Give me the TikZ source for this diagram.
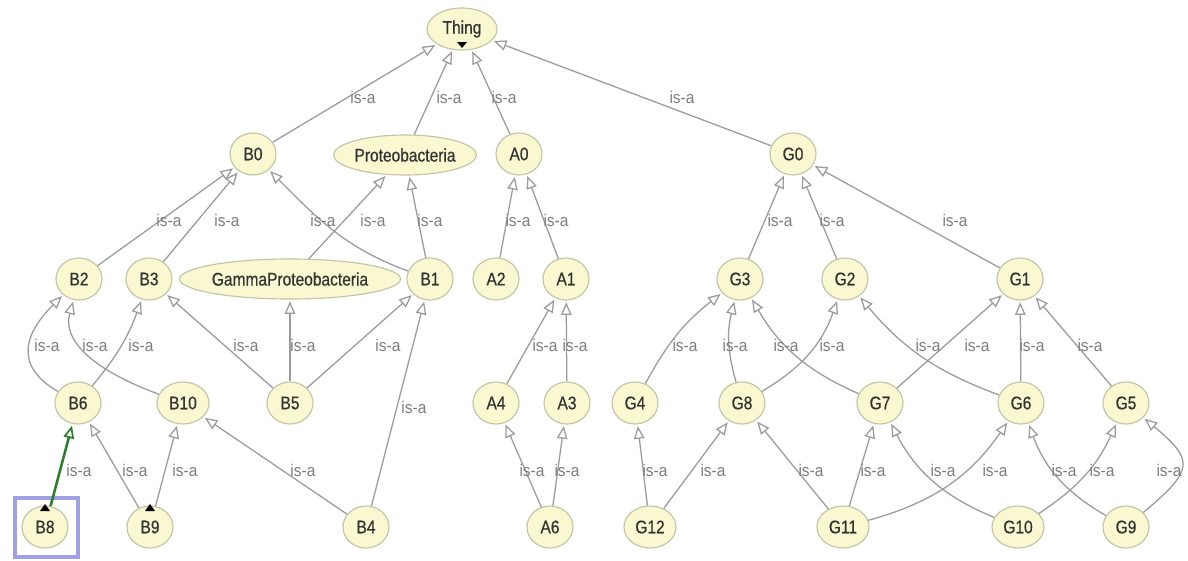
\documentclass[tikz,border=0pt]{standalone}
\usepackage{fontspec}
\setmainfont{Liberation Sans}
\newfontfamily\nodefont{Liberation Sans}[FakeStretch=0.85,FakeBold=0.6]
\newfontfamily\lblfont{Liberation Sans}[FakeStretch=0.92]
\usetikzlibrary{arrows.meta,shapes.geometric}
\definecolor{nodefill}{RGB}{250,248,208}
\definecolor{nodeborder}{RGB}{195,195,165}
\definecolor{edgegray}{RGB}{155,155,155}
\definecolor{labelgray}{RGB}{125,125,125}
\definecolor{selgreen}{RGB}{40,125,40}
\definecolor{selblue}{RGB}{160,160,230}
\begin{document}
\begin{tikzpicture}[x=0.025cm,y=-0.025cm,
  cls/.style={ellipse, draw=nodeborder, line width=0.8pt, fill=nodefill,
    minimum width=1.15cm, minimum height=1.05cm, inner sep=0pt,
    font=\nodefont\fontsize{13}{15}\selectfont, text=black!80},
  wide/.style={minimum width=1.3cm},
  isa/.style={draw=edgegray, line width=0.9pt, shorten >=1.2pt,
    -{Triangle[length=9pt,width=7.5pt,fill=white]}},
  sel/.style={draw=selgreen, line width=1.8pt, shorten >=1.2pt,
    -{Triangle[length=9pt,width=7.5pt,fill=white,line width=1.2pt]}},
  lbl/.style={text=labelgray, font=\lblfont\fontsize{12}{13}\selectfont, inner sep=0pt},
  blackmark/.style={fill=black}
]
\useasboundingbox (0,0) rectangle (1188,560);
\fill[white] (0,0) rectangle (1188,560);

% nodes
\node[cls, minimum width=1.75cm] (Thing) at (462,29) {Thing};
\node[cls] (B0) at (253,154) {B0};
\node[cls, minimum width=3.4cm, minimum height=1.0cm] (Proteo) at (405,155) {Proteobacteria};
\node[cls] (A0) at (519,154) {A0};
\node[cls] (G0) at (793,154) {G0};

\node[cls] (B2) at (79,279) {B2};
\node[cls] (B3) at (149,279) {B3};
\node[cls, minimum width=4.75cm, minimum height=1.0cm] (Gamma) at (290,279) {GammaProteobacteria};
\node[cls] (B1) at (430,279) {B1};
\node[cls] (A2) at (496,279) {A2};
\node[cls] (A1) at (566,279) {A1};
\node[cls] (G3) at (740,279) {G3};
\node[cls] (G2) at (845,279) {G2};
\node[cls] (G1) at (1020,279) {G1};

\node[cls] (B6) at (78,403) {B6};
\node[cls, wide] (B10) at (183,403) {B10};
\node[cls] (B5) at (290,403) {B5};
\node[cls] (A4) at (496,403) {A4};
\node[cls] (A3) at (567,403) {A3};
\node[cls] (G4) at (635,403) {G4};
\node[cls] (G8) at (742,403) {G8};
\node[cls] (G7) at (880,403) {G7};
\node[cls] (G6) at (1021,403) {G6};
\node[cls] (G5) at (1126,403) {G5};

\node[cls] (B8) at (45,527) {B8};
\node[cls] (B9) at (150,527) {B9};
\node[cls] (B4) at (366,527) {B4};
\node[cls] (A6) at (550,527) {A6};
\node[cls, wide] (G12) at (650,527) {G12};
\node[cls, wide] (G11) at (843,527) {G11};
\node[cls, wide] (G10) at (1018,527) {G10};
\node[cls] (G9) at (1126,527) {G9};

% markers
\fill[blackmark] ([shift={(-5,13)}]Thing.center) -- ++(10,0) -- ++(-5,6) -- cycle;
\fill[blackmark] ([shift={(-5,-16)}]B8.center) -- ++(10,0) -- ++(-5,-7) -- cycle;
\fill[blackmark] ([shift={(-5,-16)}]B9.center) -- ++(10,0) -- ++(-5,-7) -- cycle;
\draw[selblue, line width=2.2pt] ([shift={(-30,-29)}]B8.center) rectangle ([shift={(33,30)}]B8.center);

% level 1
\draw[isa] (B0) -- (Thing);
\draw[isa] (Proteo) -- (Thing);
\draw[isa] (A0) -- (Thing);
\draw[isa] (G0) -- (Thing);
\node[lbl] (l1) at (363,97) {is-a};
\node[lbl] (l2) at (449,97) {is-a};
\node[lbl] (l3) at (504,97) {is-a};
\node[lbl] (l4) at (682,97) {is-a};

% level 2
\draw[isa] (B2) -- (B0);
\draw[isa] (B3) -- (B0);
\draw[isa] (B1) to[out=160,in=-45] (B0);
\draw[isa] (Gamma) -- (Proteo);
\draw[isa] (B1) -- (Proteo);
\draw[isa] (A2) -- (A0);
\draw[isa] (A1) -- (A0);
\draw[isa] (G3) -- (G0);
\draw[isa] (G2) -- (G0);
\draw[isa] (G1) -- (G0);
\node[lbl] (l5) at (169,220) {is-a};
\node[lbl] (l6) at (227,220) {is-a};
\node[lbl] (l7) at (323,220) {is-a};
\node[lbl] (l8) at (373,220) {is-a};
\node[lbl] (l9) at (430,220) {is-a};
\node[lbl] (l10) at (518,220) {is-a};
\node[lbl] (l11) at (556,220) {is-a};
\node[lbl] (l12) at (780,220) {is-a};
\node[lbl] (l13) at (832,220) {is-a};
\node[lbl] (l14) at (955,220) {is-a};

% level 3
\draw[isa] (B6) to[out=150,in=-135,looseness=1.4] (B2);
\draw[isa] (B10) to[out=160,in=-105] (B2);
\draw[isa] (B6) to[bend right=10] (B3);
\draw[isa] (B5) -- (B3);
\draw[isa] (B5) -- (Gamma);
\draw[isa] (B5) -- (B1);
\draw[isa] (B4) -- (B1);
\draw[isa] (A4) -- (A1);
\draw[isa] (A3) -- (A1);
\draw[isa] (G4) to[bend left=12] (G3);
\draw[isa] (G8) to[bend left=15] (G3);
\draw[isa] (G7) to[bend left=18] (G3);
\draw[isa] (G8) to[bend right=20] (G2);
\draw[isa] (G6) to[bend left=15] (G2);
\draw[isa] (G7) -- (G1);
\draw[isa] (G6) -- (G1);
\draw[isa] (G5) -- (G1);
\node[lbl] (l15) at (47,345) {is-a};
\node[lbl] (l16) at (95,345) {is-a};
\node[lbl] (l17) at (141,345) {is-a};
\node[lbl] (l18) at (246,345) {is-a};
\node[lbl] (l19) at (303,345) {is-a};
\node[lbl] (l20) at (388,345) {is-a};
\node[lbl] (l21) at (414,407) {is-a};
\node[lbl] (l22) at (545,345) {is-a};
\node[lbl] (l23) at (575,345) {is-a};
\node[lbl] (l24) at (685,345) {is-a};
\node[lbl] (l25) at (735,345) {is-a};
\node[lbl] (l26) at (786,345) {is-a};
\node[lbl] (l27) at (832,345) {is-a};
\node[lbl] (l28) at (928,345) {is-a};
\node[lbl] (l29) at (977,345) {is-a};
\node[lbl] (l30) at (1032,345) {is-a};
\node[lbl] (l31) at (1090,345) {is-a};

% level 4
\draw[sel] (B8) -- (B6);
\draw[isa] (B9) -- (B6);
\draw[isa] (B9) -- (B10);
\draw[isa] (B4) -- (B10);
\draw[isa] (A6) -- (A4);
\draw[isa] (A6) -- (A3);
\draw[isa] (G12) -- (G4);
\draw[isa] (G12) -- (G8);
\draw[isa] (G11) -- (G8);
\draw[isa] (G11) -- (G7);
\draw[isa] (G10) to[bend left=20] (G7);
\draw[isa] (G11) to[bend right=20] (G6);
\draw[isa] (G9) to[bend left=20] (G6);
\draw[isa] (G10) to[bend right=16] (G5);
\draw[isa] (G9) to[out=40,in=-40,looseness=1.8] (G5);
\node[lbl] (l32) at (79,470) {is-a};
\node[lbl] (l33) at (135,470) {is-a};
\node[lbl] (l34) at (185,470) {is-a};
\node[lbl] (l35) at (303,470) {is-a};
\node[lbl] (l36) at (532,470) {is-a};
\node[lbl] (l37) at (567,470) {is-a};
\node[lbl] (l38) at (655,470) {is-a};
\node[lbl] (l39) at (713,470) {is-a};
\node[lbl] (l40) at (811,470) {is-a};
\node[lbl] (l41) at (873,470) {is-a};
\node[lbl] (l42) at (943,470) {is-a};
\node[lbl] (l43) at (995,470) {is-a};
\node[lbl] (l44) at (1064,470) {is-a};
\node[lbl] (l45) at (1102,470) {is-a};
\node[lbl] (l46) at (1169,470) {is-a};
\end{tikzpicture}
\end{document}
